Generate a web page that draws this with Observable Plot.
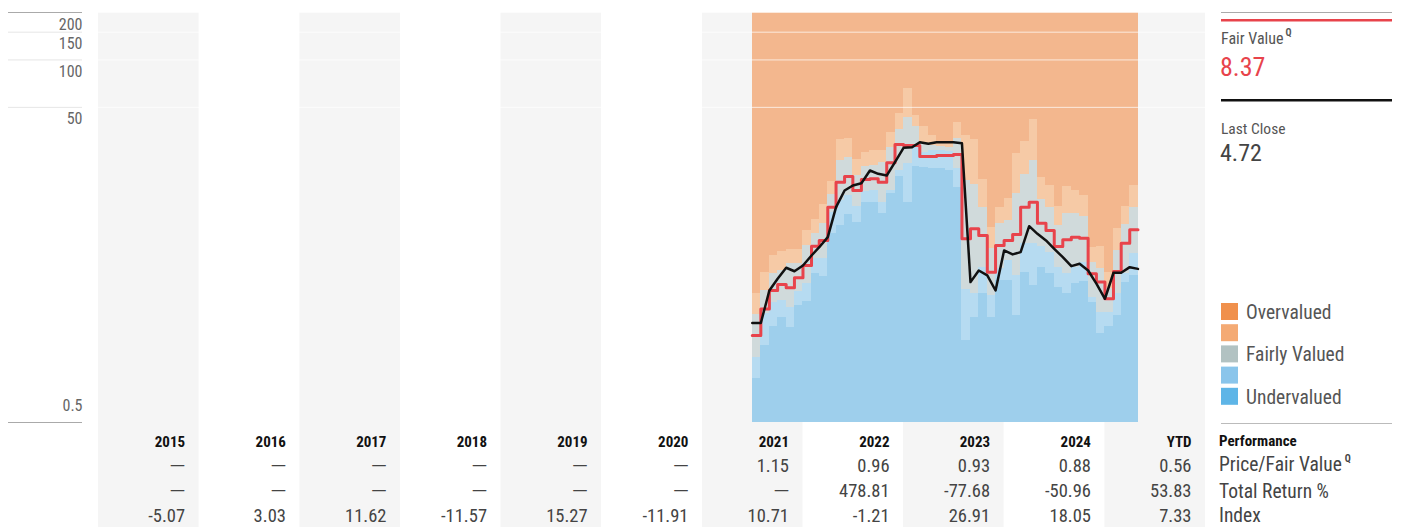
<!DOCTYPE html>
<html><head><meta charset="utf-8">
<script src="https://cdn.jsdelivr.net/npm/d3@7"></script>
<script src="https://cdn.jsdelivr.net/npm/@observablehq/plot@0.6"></script>
<style>
html,body{margin:0;padding:0;background:#fff;}
#root{position:relative;width:1412px;height:527px;overflow:hidden;font-family:"Roboto Condensed","Liberation Sans Narrow","Arial Narrow",Roboto,sans-serif;}
#root > svg{position:absolute;left:0;}
</style></head><body><div id="root"></div>
<script>
const FONT = '"Roboto Condensed","Liberation Sans Narrow","Arial Narrow",Roboto,sans-serif';

// ---- data ----
const months = ["2021-07","2021-08","2021-09","2021-10","2021-11","2021-12",
  "2022-01","2022-02","2022-03","2022-04","2022-05","2022-06","2022-07","2022-08","2022-09","2022-10","2022-11","2022-12",
  "2023-01","2023-02","2023-03","2023-04","2023-05","2023-06","2023-07","2023-08","2023-09","2023-10","2023-11","2023-12",
  "2024-01","2024-02","2024-03","2024-04","2024-05","2024-06","2024-07","2024-08","2024-09","2024-10","2024-11","2024-12",
  "2025-01","2025-02","2025-03","2025-04"];
const fairValue = [1.78,2.63,3.44,3.76,3.58,4.15,4.96,6.58,7.15,11.63,16.75,18.2,14.84,17.43,17.61,16.75,22.24,29.06,
  28.64,28.64,24.39,24.39,24.75,24.75,25.1,7.33,8.48,7.69,4.50,6.64,
  7.15,7.80,11.63,12.51,9.20,8.27,6.55,7.22,7.50,7.39,4.39,3.89,3.05,4.55,6.87,8.37];
const priceStart = 2.14;
const monthEndClose = [2.14,3.44,4.08,4.80,4.56,4.96,5.74,6.48,7.50,11.63,14.84,15.97,16.51,19.88,18.94,18.48,22.44,27.7,
  27.94,30.06,29.4,30.06,30.06,30.06,29.6,3.89,4.61,4.29,3.44,6.18,
  5.83,6.03,8.81,7.88,7.15,6.33,5.60,4.91,5.09,4.61,3.80,3.05,4.46,4.46,4.84,4.72];
// star-rating price thresholds per month (top of each band)
const oneStar  = [3.31,4.50,5.74,6.09,6.24,6.24,8.27,9.67,12.09,16.93,31.1,31.6,23.35,25.97,26.63,26.63,34.78,45.5,
  65.6,44.4,37.8,33.15,30.5,30.06,40.3,33.15,31.1,17.35,8.68,11.63,
  13.15,25.4,30.37,41.7,17.87,15.97,11.75,15.73,14.84,13.8,6.48,6.55,4.50,8.48,11.75,15.97];
const twoStar  = [2.43,3.44,4.39,4.61,5.09,5.09,6.64,7.95,9.20,14.0,23.0,23.9,18.48,21.08,21.38,22.44,27.94,36.0,
  42.9,37.8,29.6,28.64,28.2,27.94,31.6,17.17,16.2,11.63,6.33,9.12,
  9.57,14.14,18.75,23.0,12.96,11.63,8.90,10.56,10.56,10.15,5.21,4.73,3.53,6.18,9.03,11.63];
const fourStar = [1.30,2.45,2.90,2.98,2.70,3.41,3.80,5.47,5.47,10.81,12.82,13.8,11.75,14.6,14.9,12.51,14.84,19.88,
  21.9,28.64,25.97,26.63,26.63,26.36,20.38,3.48,3.28,4.84,3.20,4.73,
  5.34,4.29,6.81,6.81,6.55,6.03,4.84,4.39,4.84,5.21,3.12,2.51,2.51,3.28,4.43,5.94];
const fiveStar = [0.956,1.54,2.04,2.33,2.01,2.77,2.94,4.43,4.22,7.95,8.90,10.45,9.34,12.5,12.5,10.65,14.14,18.2,
  12.51,21.08,20.69,20.38,20.38,19.88,15.44,1.66,2.31,3.28,2.31,3.98,
  3.98,2.39,4.50,3.70,4.84,4.39,3.61,3.31,3.80,3.94,2.90,1.83,2.04,2.39,3.89,4.29];

const yearLabels = ["2015","2016","2017","2018","2019","2020","2021","2022","2023","2024","YTD"];
const yearStarts = [2015,2016,2017,2018,2019,2020,2021,2022,2023,2024,2025];
const priceFairValue = [null,null,null,null,null,null,1.15,0.96,0.93,0.88,0.56];
const totalReturn = [null,null,null,null,null,null,null,478.81,-77.68,-50.96,53.83];
const indexReturn = [-5.07,3.03,11.62,-11.57,15.27,-11.91,10.71,-1.21,26.91,18.05,7.33];
const yTicks = [50,100,150,200];
const yEdgeTicks = [0.5,200];
const yBottomLabel = [0.5];

const lastClose = 4.72;
const currentFairValue = 8.37;

// ---- derived tables ----
const bandKeys = ["5","4","3","2","1"];
const bandColors = ["#9ecfec","#b6dbf1","#d0dadb","#f6caa6","#f3b78e"];
const bands = [];
months.forEach((m, i) => {
  const x1 = new Date(m + "-01T00:00:00Z"), x2 = d3.utcMonth.offset(x1, 1);
  const edges = [0.5, fiveStar[i], fourStar[i], twoStar[i], oneStar[i], 200];
  for (let k = 0; k < 5; k++) bands.push({x1, x2, y1: edges[k], y2: edges[k + 1], band: bandKeys[k]});
});
const fvPts = months.map((m, i) => ({date: new Date(m + "-01T00:00:00Z"), v: fairValue[i]}));
fvPts.push({date: d3.utcMonth.offset(fvPts[fvPts.length - 1].date, 1), v: fairValue[fairValue.length - 1]});
const pricePts = [{date: new Date(months[0] + "-01T00:00:00Z"), v: priceStart}]
  .concat(months.map((m, i) => ({date: d3.utcMonth.offset(new Date(m + "-01T00:00:00Z"), 1), v: monthEndClose[i]})));

const cols = yearLabels.map((label, i) => ({
  label, x1: new Date(Date.UTC(yearStarts[i], 0, 1)), x2: new Date(Date.UTC(yearStarts[i] + 1, 0, 1)), shaded: i % 2 === 0
}));
const cells = [];
cols.forEach((c, i) => {
  [["p", priceFairValue[i]], ["r", totalReturn[i]], ["i", indexReturn[i]]].forEach(([row, v]) =>
    cells.push({x: c.x2, row, missing: v == null, text: v == null ? "—" : v.toFixed(2)}));
});

const xScale = {type: "utc", domain: [new Date(Date.UTC(2015,0,1)), new Date(Date.UTC(2026,0,1))], axis: null};

const chart = Plot.plot({
  width: 1412, height: 422,
  marginLeft: 98, marginRight: 207, marginTop: 12, marginBottom: 0,
  style: {fontFamily: FONT, background: "transparent", overflow: "visible"},
  x: xScale,
  y: {type: "log", domain: [0.5, 200], axis: null},
  color: {domain: bandKeys, range: bandColors},
  marks: [
    Plot.rect(cols.filter(c => c.shaded), {x1: "x1", x2: "x2", fill: "#f5f5f5"}),
    Plot.rect(bands, {x1: "x1", x2: "x2", y1: "y1", y2: "y2", fill: "band", shapeRendering: "crispEdges"}),
    Plot.ruleY(yTicks, {stroke: "#fff", strokeOpacity: 0.7}),
    Plot.line(fvPts, {x: "date", y: "v", curve: "step-after", stroke: "#e8434b", strokeWidth: 3}),
    Plot.line(pricePts, {x: "date", y: "v", stroke: "#111", strokeWidth: 2.5}),
    Plot.axisY(yTicks.slice(0, 3), {tickSize: 74, dx: -16, tickFormat: () => "", stroke: "#e6e6e6", label: null}),
    Plot.axisY(yEdgeTicks, {tickSize: 74, dx: -16, tickFormat: () => "", stroke: "#aaaaaa", label: null}),
    Plot.text(yTicks, {y: d => d, text: d => String(d), frameAnchor: "left", textAnchor: "end", dx: -16, dy: 12,
      fontSize: 16, fill: "#666"}),
    Plot.text(yBottomLabel, {y: d => d, text: d => String(d), frameAnchor: "left", textAnchor: "end", dx: -16, dy: -17,
      fontSize: 16, fill: "#666"})
  ]
});
chart.style.top = "0px";

const table = Plot.plot({
  width: 1412, height: 105,
  marginLeft: 98, marginRight: 207, marginTop: 0, marginBottom: 0,
  style: {fontFamily: FONT, background: "transparent", overflow: "visible"},
  x: xScale,
  y: {type: "point", domain: ["h","p","r","i"], range: [23.7, 100.2], padding: 0, axis: null},
  marks: [
    Plot.rect(cols.filter(c => c.shaded), {x1: "x1", x2: "x2", fill: "#f5f5f5"}),
    Plot.text(cols, {x: "x2", y: () => "h", text: "label", textAnchor: "end", lineAnchor: "bottom", dx: -14,
      fontWeight: "bold", fontSize: 15, fill: "#111"}),
    Plot.text(cells.filter(d => !d.missing), {x: "x", y: "row", text: "text", textAnchor: "end", lineAnchor: "bottom", dx: -14,
      fontSize: 18.5, fill: "#444"}),
    Plot.text(cells.filter(d => d.missing), {x: "x", y: "row", text: "text", textAnchor: "end", lineAnchor: "bottom", dx: -14, dy: -2,
      fontSize: 15, fontFamily: "DejaVu Sans", fill: "#444"})
  ]
});
table.style.top = "422px";

const root = document.getElementById("root");
root.appendChild(chart);
root.appendChild(table);

// right-hand panel: current values, legend, row labels
const legendItems = ["Overvalued", "", "Fairly Valued", "", "Undervalued"];
const legendColors = ["#f0904c","#f4aa74","#b2c2c2","#8ac5eb","#5eb5e7"];
const svg = d3.select(root).append("svg").attr("width", 1412).attr("height", 527).style("top", "0px")
  .style("font-family", FONT);
svg.append("line").attr("x1", 1221).attr("x2", 1392).attr("y1", 12.5).attr("y2", 12.5).attr("stroke", "#aaa");
svg.append("line").attr("x1", 1221).attr("x2", 1392).attr("y1", 20.3).attr("y2", 20.3).attr("stroke", "#e8434b").attr("stroke-width", 2.5);
const fvLabel = svg.append("text").attr("x", 1221).attr("y", 44).attr("font-size", 16).attr("fill", "#555").text("Fair Value");
fvLabel.append("tspan").attr("dx", 2).attr("dy", -8).attr("font-size", 10).attr("font-weight", "bold").text("Q");
svg.append("text").attr("x", 1220).attr("y", 76).attr("font-size", 26).attr("fill", "#e8434b").text(currentFairValue.toFixed(2));
svg.append("line").attr("x1", 1221).attr("x2", 1392).attr("y1", 100.2).attr("y2", 100.2).attr("stroke", "#111").attr("stroke-width", 2.5);
svg.append("text").attr("x", 1221).attr("y", 133.5).attr("font-size", 15.5).attr("fill", "#555").text("Last Close");
svg.append("text").attr("x", 1220).attr("y", 161).attr("font-size", 24).attr("fill", "#444").text(lastClose.toFixed(2));
legendItems.forEach((t, i) => {
  const top = 303 + i * 21.2;
  svg.append("rect").attr("x", 1221).attr("y", top).attr("width", 17).attr("height", 17).attr("fill", legendColors[i]);
  if (t) svg.append("text").attr("x", 1246).attr("y", top + 16).attr("font-size", 19.5).attr("fill", "#555").text(t);
});
svg.append("line").attr("x1", 1221).attr("x2", 1392).attr("y1", 423.5).attr("y2", 423.5).attr("stroke", "#bbb");
svg.append("text").attr("x", 1219).attr("y", 445.7).attr("font-size", 15).attr("font-weight", "bold").attr("fill", "#111").text("Performance");
const pfvLabel = svg.append("text").attr("x", 1219).attr("y", 470.7).attr("font-size", 19.5).attr("fill", "#444").text("Price/Fair Value");
pfvLabel.append("tspan").attr("dx", 3).attr("dy", -9).attr("font-size", 10).attr("font-weight", "bold").text("Q");
svg.append("text").attr("x", 1219).attr("y", 497.5).attr("font-size", 19.5).attr("fill", "#444").text("Total Return %");
svg.append("text").attr("x", 1219).attr("y", 522).attr("font-size", 19.5).attr("fill", "#444").text("Index");
</script></body></html>
